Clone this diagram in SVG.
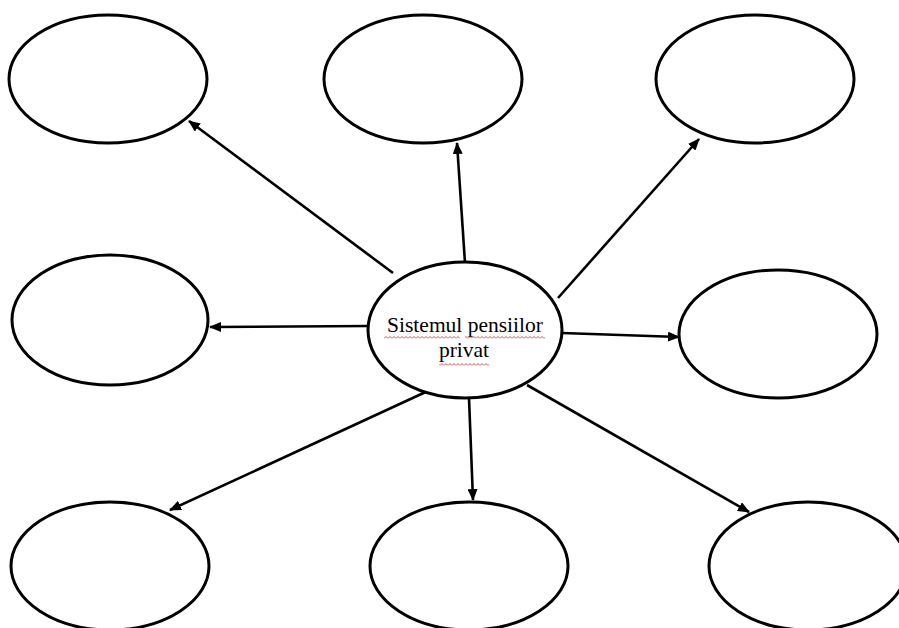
<svg xmlns="http://www.w3.org/2000/svg" width="899" height="628" viewBox="0 0 899 628">
<style>
.n{fill:#fff;stroke:#000;stroke-width:3}
.c{stroke:#000;stroke-width:2.6;fill:none;marker-end:url(#ah)}
.t{font-family:"Liberation Serif","Times New Roman",serif;font-size:21.5px;fill:#000;text-anchor:middle}
</style>
<defs>
<marker id="ah" viewBox="0 0 12 10" refX="11" refY="5" markerWidth="12" markerHeight="10" markerUnits="userSpaceOnUse" orient="auto">
<path d="M0,0 L12,5 L0,10 Z" fill="#000"/>
</marker>
<pattern id="wave" width="4" height="3" patternUnits="userSpaceOnUse">
<path d="M0,2.5 L2,0.5 L4,2.5" fill="none" stroke="#d02020" stroke-width="0.8"/>
</pattern>
</defs>
<rect width="899" height="628" fill="#fff"/>
<g id="connectors">
<line class="c" x1="393" y1="273" x2="189" y2="121"/>
<line class="c" x1="465" y1="263" x2="457" y2="143"/>
<line class="c" x1="558" y1="298" x2="699" y2="139"/>
<line class="c" x1="369" y1="326" x2="210" y2="327"/>
<line class="c" x1="562" y1="333" x2="679" y2="337"/>
<line class="c" x1="430" y1="390" x2="170" y2="510"/>
<line class="c" x1="469" y1="398" x2="473" y2="500"/>
<line class="c" x1="527" y1="385" x2="749" y2="512"/>
</g>
<g id="n-top-left"><ellipse class="n" cx="108" cy="79" rx="99" ry="64"/></g>
<g id="n-top-mid"><ellipse class="n" cx="423" cy="79" rx="99" ry="64"/></g>
<g id="n-top-right"><ellipse class="n" cx="755" cy="79" rx="99" ry="64"/></g>
<g id="n-mid-left"><ellipse class="n" cx="110" cy="320" rx="98" ry="65"/></g>
<g id="n-mid-right"><ellipse class="n" cx="778" cy="334" rx="99" ry="64"/></g>
<g id="n-bot-left"><ellipse class="n" cx="110" cy="566" rx="99" ry="64"/></g>
<g id="n-bot-mid"><ellipse class="n" cx="469" cy="566" rx="99" ry="64"/></g>
<g id="n-bot-right"><ellipse class="n" cx="808" cy="566" rx="99" ry="64"/></g>
<g id="n-center">
<ellipse class="n" cx="465" cy="330" rx="97" ry="68"/>
<text class="t" x="465" y="332">Sistemul pensiilor</text>
<text class="t" x="464" y="357">privat</text>
<rect x="384" y="336" width="76" height="3" fill="url(#wave)"/>
<rect x="465" y="336" width="80" height="3" fill="url(#wave)"/>
<rect x="439" y="363" width="50" height="3" fill="url(#wave)"/>
</g>
</svg>
